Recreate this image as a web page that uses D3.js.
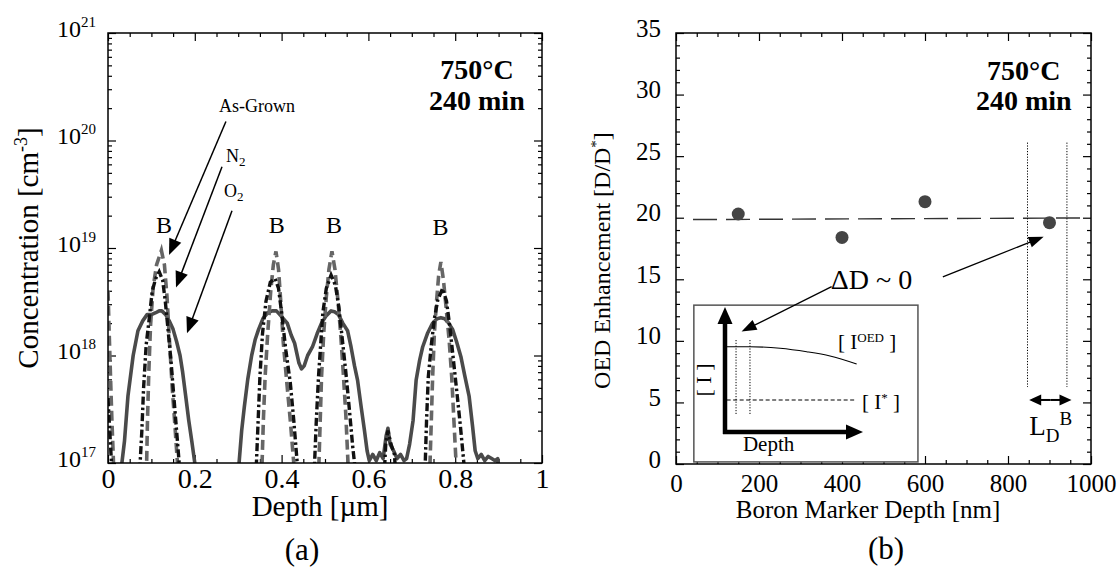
<!DOCTYPE html>
<html><head><meta charset="utf-8">
<script src="https://cdn.jsdelivr.net/npm/d3@7"></script>
<style>
html,body{margin:0;padding:0;background:#fff;}
svg{display:block;}
svg text{font-family:"Liberation Serif","Times New Roman",Times,serif;}
</style></head><body>
<svg id="c" width="1117" height="573"></svg>
<script>
// ---------------- DATA: panel (a) ----------------
const seriesNamesA = ["As-Grown", "N2", "O2"];
// [depth um, concentration cm^-3]; values below 1e17 run off the axis
const asGrown = [
 [0.000,4.0e18],[0.003,1.5e18],[0.006,6e17],[0.009,2.5e17],[0.012,1.2e17],[0.015,5e16],
 [0.086,5e16],[0.089,1.0e17],[0.091,2.5e17],[0.094,7e17],[0.098,1.9e18],[0.104,4.3e18],[0.112,7.0e18],[0.123,9.5e18],[0.130,7.0e18],[0.136,3.5e18],[0.142,1.3e18],[0.148,5e17],[0.154,2.3e17],[0.160,1.0e17],[0.163,5e16],
 [0.352,5e16],[0.355,1.0e17],[0.358,2.5e17],[0.362,6.3e17],[0.368,1.6e18],[0.375,4.0e18],[0.381,7.0e18],[0.387,9.3e18],[0.393,6.3e18],[0.398,3.2e18],[0.404,1.3e18],[0.412,5.6e17],[0.420,2.5e17],[0.428,1.0e17],[0.431,5e16],
 [0.483,5e16],[0.486,1.0e17],[0.489,2.5e17],[0.492,6.3e17],[0.497,1.6e18],[0.503,3.5e18],[0.509,6.3e18],[0.516,9.3e18],[0.523,6.3e18],[0.530,3.2e18],[0.536,1.6e18],[0.542,7e17],[0.548,2.8e17],[0.553,1.0e17],[0.556,5e16],
 [0.739,5e16],[0.742,1.0e17],[0.745,2.5e17],[0.748,6.3e17],[0.752,1.6e18],[0.757,3.2e18],[0.762,5.6e18],[0.767,7.4e18],[0.773,5.0e18],[0.779,2.8e18],[0.786,1.4e18],[0.792,6.3e17],[0.797,2.5e17],[0.802,1.0e17],[0.805,5e16]
];
const n2 = [
 [0.000,4e17],[0.004,2e17],[0.008,1e17],[0.010,5e16],
 [0.071,5e16],[0.074,1.0e17],[0.078,2.0e17],[0.082,5.0e17],[0.088,1.26e18],[0.095,2.2e18],[0.102,4.0e18],[0.110,5.2e18],[0.118,6.0e18],[0.126,5.0e18],[0.132,3.2e18],[0.138,1.8e18],[0.145,9e17],[0.152,4e17],[0.158,2e17],[0.164,1.0e17],[0.167,5e16],
 [0.339,5e16],[0.342,1.0e17],[0.346,2.5e17],[0.350,6.3e17],[0.356,1.6e18],[0.364,3.2e18],[0.374,4.8e18],[0.385,5.2e18],[0.393,4.2e18],[0.400,2.5e18],[0.410,1.1e18],[0.420,5.6e17],[0.428,2.5e17],[0.436,1.0e17],[0.439,5e16],
 [0.473,5e16],[0.476,1.0e17],[0.480,2.5e17],[0.485,6.3e17],[0.490,1.26e18],[0.495,2.5e18],[0.503,4.2e18],[0.514,5.6e18],[0.524,4.5e18],[0.532,2.8e18],[0.540,1.4e18],[0.548,7e17],[0.556,3.2e17],[0.564,1.4e17],[0.568,1.0e17],[0.571,5e16],
 [0.634,5e16],[0.640,1.5e17],[0.645,2.0e17],[0.652,1.5e17],[0.660,1.2e17],[0.666,5e16],
 [0.728,5e16],[0.731,1.0e17],[0.734,2.5e17],[0.738,6.3e17],[0.745,1.26e18],[0.752,2.2e18],[0.760,3.3e18],[0.771,4.2e18],[0.780,3.2e18],[0.788,1.8e18],[0.796,9e17],[0.804,4.5e17],[0.812,2.2e17],[0.820,1.0e17],[0.823,5e16]
];
const o2 = [
 [0.028,5e16],[0.032,1.0e17],[0.038,1.6e17],[0.046,4.2e17],[0.058,1.0e18],[0.069,1.7e18],[0.080,2.1e18],[0.090,2.4e18],[0.100,2.4e18],[0.110,2.5e18],[0.118,2.6e18],[0.124,2.6e18],[0.133,2.4e18],[0.141,2.1e18],[0.150,1.75e18],[0.158,1.35e18],[0.166,1.0e18],[0.172,7e17],[0.179,4.2e17],[0.186,2.5e17],[0.193,1.6e17],[0.200,1.0e17],[0.204,5e16],
 [0.298,5e16],[0.302,1.0e17],[0.308,2.0e17],[0.314,3.3e17],[0.322,6e17],[0.331,1.0e18],[0.339,1.4e18],[0.347,1.75e18],[0.357,2.2e18],[0.368,2.5e18],[0.378,2.6e18],[0.388,2.6e18],[0.400,2.3e18],[0.413,2.0e18],[0.422,1.55e18],[0.430,1.3e18],[0.440,8.5e17],[0.446,7.5e17],[0.452,8e17],[0.460,1.0e18],[0.471,1.2e18],[0.482,1.6e18],[0.492,2.0e18],[0.503,2.35e18],[0.514,2.6e18],[0.522,2.55e18],[0.531,2.4e18],[0.541,2.0e18],[0.552,1.7e18],[0.560,1.2e18],[0.568,8e17],[0.575,5.9e17],[0.583,3.4e17],[0.591,2.0e17],[0.597,1.3e17],[0.602,1.05e17],[0.610,1.2e17],[0.618,1.05e17],[0.626,1.25e17],[0.634,1.1e17],[0.641,1.8e17],[0.645,2.1e17],[0.650,1.5e17],[0.658,1.3e17],[0.666,1.1e17],[0.674,1.2e17],[0.682,1.05e17],[0.688,1.1e17],[0.695,1.5e17],[0.703,2.5e17],[0.710,5.9e17],[0.718,9e17],[0.725,1.2e18],[0.736,1.6e18],[0.748,2.0e18],[0.758,2.2e18],[0.767,2.25e18],[0.776,2.2e18],[0.785,2.0e18],[0.794,1.75e18],[0.803,1.35e18],[0.813,9.8e17],[0.822,6.5e17],[0.832,4.2e17],[0.840,2.2e17],[0.846,1.3e17],[0.852,1.1e17],[0.860,1.2e17],[0.868,1.05e17],[0.876,1.15e17],[0.884,1.1e17],[0.892,1.05e17],[0.898,1.1e17],[0.902,5e16]
];
const markerPeaksA = [0.129, 0.389, 0.521, 0.766];     // "B" label positions
const xTickValsA = [0, 0.2, 0.4, 0.6, 0.8, 1];
const xTickLabelsA = ["0", "0.2", "0.4", "0.6", "0.8", "1"];
const xMinorA = [0.05,0.1,0.15,0.25,0.3,0.35,0.45,0.5,0.55,0.65,0.7,0.75,0.85,0.9,0.95];
const yTickValsA = [1e17, 1e18, 1e19, 1e20, 1e21];
const yTickExpA = ["17", "18", "19", "20", "21"];

// ---------------- DATA: panel (b) ----------------
const markerDepths = [150, 400, 600, 900];           // nm
const oedEnhancement = [20.3, 18.4, 21.3, 19.6];     // D/D*
const fitLine = [[41, 19.85], [977, 19.98]];
const ldBounds = [847, 942];                          // diffusion length markers (nm)
const xTickValsB = [0, 200, 400, 600, 800, 1000];
const xMinorB = [50,100,150,250,300,350,450,500,550,650,700,750,850,900,950];
const yTickValsB = [0, 5, 10, 15, 20, 25, 30, 35];
const yMinorB = [1,2,3,4,6,7,8,9,11,12,13,14,16,17,18,19,21,22,23,24,26,27,28,29,31,32,33,34];
// inset schematic (arbitrary units 0..10)
const insetOED = [[0.12,6.82],[1.81,6.82],[3.99,6.70],[5.92,6.42],[7.61,6.08],[9.54,5.44]];
const insetIstar = [[0.12,2.56],[9.54,2.56]];
const insetDotted = [0.8, 1.81];

// ---------------- DRAW ----------------
const svg = d3.select("#c");
const defs = svg.append("defs");

function arrow(g, x1, y1, x2, y2, len, w, sw) {
  const a = Math.atan2(y2 - y1, x2 - x1);
  const bx = x2 - len * Math.cos(a), by = y2 - len * Math.sin(a);
  g.append("line").attr("x1", x1).attr("y1", y1).attr("x2", bx + Math.cos(a)).attr("y2", by + Math.sin(a))
    .attr("stroke", "#000").attr("stroke-width", sw);
  const px = -Math.sin(a) * w / 2, py = Math.cos(a) * w / 2;
  g.append("polygon").attr("points", `${x2},${y2} ${bx+px},${by+py} ${bx-px},${by-py}`).attr("fill", "#000");
}
function styleAxis(sel) {
  sel.attr("font-family", null).attr("font-size", null);
  sel.select(".domain").remove();
  sel.selectAll(".tick line").attr("stroke", "#000").attr("stroke-width", 1.2);
}

// ===== Panel (a) =====
const xA = d3.scaleLinear().domain([0, 1]).range([108, 542]);
const yA = d3.scaleLog().domain([1e17, 1e21]).range([463, 33]);
const gA = svg.append("g");
const [ax0, ax1] = xA.range(), [ay0, ay1] = yA.range();

defs.append("clipPath").attr("id", "clipA").append("rect")
  .attr("x", ax0).attr("y", ay1).attr("width", ax1 - ax0).attr("height", ay0 - ay1);

// bottom axis
const bA = gA.append("g").attr("transform", `translate(0,${ay0})`)
  .call(d3.axisBottom(xA).tickValues(xTickValsA).tickSize(-8).tickFormat((d, i) => xTickLabelsA[i]));
styleAxis(bA);
bA.selectAll("text").attr("y", 25).attr("dy", null).attr("fill", "#000").style("font-size", "28px");
gA.append("g").attr("transform", `translate(0,${ay0})`).call(d3.axisBottom(xA).tickValues(xMinorA).tickSize(-4).tickFormat(() => "")).call(styleAxis);
gA.append("g").attr("transform", `translate(0,${ay1})`).call(d3.axisTop(xA).tickValues(xTickValsA).tickSize(-8).tickFormat(() => "")).call(styleAxis);
gA.append("g").attr("transform", `translate(0,${ay1})`).call(d3.axisTop(xA).tickValues(xMinorA).tickSize(-4).tickFormat(() => "")).call(styleAxis);

// left axis with 10^n labels
const lA = gA.append("g").attr("transform", `translate(${ax0},0)`)
  .call(d3.axisLeft(yA).tickValues(yTickValsA).tickSize(-8).tickFormat(() => ""));
styleAxis(lA);
lA.selectAll(".tick text").each(function (d, i) {
  const t = d3.select(this).text(null).attr("x", -12).attr("dy", null).attr("y", 3)
    .attr("text-anchor", "end").attr("fill", "#000").style("font-size", "24px");
  t.append("tspan").text("10");
  t.append("tspan").attr("dy", -10).style("font-size", "15px").text(yTickExpA[i]);
});
const minorLog = yA.ticks().filter(v => yTickValsA.indexOf(v) < 0);
gA.append("g").attr("transform", `translate(${ax0},0)`).call(d3.axisLeft(yA).tickValues(minorLog).tickSize(-4).tickFormat(() => "")).call(styleAxis);
gA.append("g").attr("transform", `translate(${ax1},0)`).call(d3.axisRight(yA).tickValues(yTickValsA).tickSize(-8).tickFormat(() => "")).call(styleAxis);
gA.append("g").attr("transform", `translate(${ax1},0)`).call(d3.axisRight(yA).tickValues(minorLog).tickSize(-4).tickFormat(() => "")).call(styleAxis);

// curves
const lineA = d3.line().x(d => xA(d[0])).y(d => yA(d[1]));
const curves = gA.append("g").attr("clip-path", "url(#clipA)");
curves.append("path").datum(o2).attr("d", lineA).attr("fill", "none").attr("stroke", "#4a4a4a").attr("stroke-width", 3.6).attr("stroke-linejoin", "round");
curves.append("path").datum(asGrown).attr("d", lineA).attr("fill", "none").attr("stroke", "#666").attr("stroke-width", 3.6).attr("stroke-dasharray", "10,5");
curves.append("path").datum(n2).attr("d", lineA).attr("fill", "none").attr("stroke", "#111").attr("stroke-width", 3.4).attr("stroke-dasharray", "8,3,2.5,3");

// frame
gA.append("rect").attr("x", ax0).attr("y", ay1).attr("width", ax1 - ax0).attr("height", ay0 - ay1)
  .attr("fill", "none").attr("stroke", "#000").attr("stroke-width", 1.5);

// labels
gA.append("text").attr("transform", `translate(38,${(ay0 + ay1) / 2}) rotate(-90)`).attr("text-anchor", "middle")
  .style("font-size", "29px").call(t => {
    t.append("tspan").text("Concentration [cm");
    t.append("tspan").attr("dy", -11).style("font-size", "18px").text("-3");
    t.append("tspan").attr("dy", 11).text("]");
  });
gA.append("text").attr("x", 320).attr("y", 516).attr("text-anchor", "middle").style("font-size", "29px").text("Depth [µm]");
gA.append("text").attr("x", 302).attr("y", 560).attr("text-anchor", "middle").style("font-size", "31px").text("(a)");
gA.append("text").attr("x", xA(0.85)).attr("y", 79).attr("text-anchor", "middle").style("font-size", "28px").style("font-weight", "bold").text("750°C");
gA.append("text").attr("x", xA(0.85)).attr("y", 110).attr("text-anchor", "middle").style("font-size", "28px").style("font-weight", "bold").text("240 min");
markerPeaksA.forEach((p, i) => {
  gA.append("text").attr("x", xA(p)).attr("y", i === 3 ? 235 : 233).attr("text-anchor", "middle").style("font-size", "24px").text("B");
});
gA.append("text").attr("x", xA(0.2558)).attr("y", yA(1.84e20)).style("font-size", "18px").text(seriesNamesA[0]);
gA.append("text").attr("x", xA(0.2719)).attr("y", yA(6.3e19)).style("font-size", "18px").call(t => {
  t.append("tspan").text("N"); t.append("tspan").attr("dy", 4).style("font-size", "13px").text("2");
});
gA.append("text").attr("x", xA(0.2673)).attr("y", yA(2.98e19)).style("font-size", "18px").call(t => {
  t.append("tspan").text("O"); t.append("tspan").attr("dy", 4).style("font-size", "13px").text("2");
});
arrow(gA, xA(0.2717), yA(1.5e20), xA(0.1406), yA(8.6e18), 16, 13, 1.5);
arrow(gA, xA(0.2627), yA(5.7e19), xA(0.1567), yA(4.3e18), 16, 13, 1.5);
arrow(gA, xA(0.2857), yA(2.22e19), xA(0.1820), yA(1.61e18), 16, 13, 1.5);

// ===== Panel (b) =====
const xB = d3.scaleLinear().domain([0, 1000]).range([676, 1091]);
const yB = d3.scaleLinear().domain([0, 35]).range([464, 33]);
const gB = svg.append("g");
const [bx0, bx1] = xB.range(), [by0, by1] = yB.range();

const bB = gB.append("g").attr("transform", `translate(0,${by0})`)
  .call(d3.axisBottom(xB).tickValues(xTickValsB).tickSize(-8).tickFormat(d3.format("d")));
styleAxis(bB);
bB.selectAll("text").attr("y", 28).attr("dy", null).attr("fill", "#000").style("font-size", "25px");
gB.append("g").attr("transform", `translate(0,${by0})`).call(d3.axisBottom(xB).tickValues(xMinorB).tickSize(-4).tickFormat(() => "")).call(styleAxis);
gB.append("g").attr("transform", `translate(0,${by1})`).call(d3.axisTop(xB).tickValues(xTickValsB).tickSize(-8).tickFormat(() => "")).call(styleAxis);
gB.append("g").attr("transform", `translate(0,${by1})`).call(d3.axisTop(xB).tickValues(xMinorB).tickSize(-4).tickFormat(() => "")).call(styleAxis);
const lB = gB.append("g").attr("transform", `translate(${bx0},0)`)
  .call(d3.axisLeft(yB).tickValues(yTickValsB).tickSize(-8).tickFormat(d3.format("d")));
styleAxis(lB);
lB.selectAll("text").attr("x", -15).attr("dy", null).attr("y", 3).attr("fill", "#000").style("font-size", "25px");
gB.append("g").attr("transform", `translate(${bx0},0)`).call(d3.axisLeft(yB).tickValues(yMinorB).tickSize(-4).tickFormat(() => "")).call(styleAxis);
gB.append("g").attr("transform", `translate(${bx1},0)`).call(d3.axisRight(yB).tickValues(yTickValsB).tickSize(-8).tickFormat(() => "")).call(styleAxis);
gB.append("g").attr("transform", `translate(${bx1},0)`).call(d3.axisRight(yB).tickValues(yMinorB).tickSize(-4).tickFormat(() => "")).call(styleAxis);

// inset (drawn over axis ticks)
const inset = gB.append("g");
inset.append("rect").attr("x", xB(43)).attr("y", yB(12.9)).attr("width", xB(583) - xB(43)).attr("height", yB(0.17) - yB(12.9))
  .attr("fill", "#fff").attr("stroke", "#555").attr("stroke-width", 1.5);
const ix = d3.scaleLinear().domain([0, 10]).range([725, 863]);
const iy = d3.scaleLinear().domain([0, 10]).range([432, 307]);
const iline = d3.line().x(d => ix(d[0])).y(d => iy(d[1]));
insetDotted.forEach(v => {
  inset.append("line").attr("x1", ix(v)).attr("x2", ix(v)).attr("y1", iy(7.36)).attr("y2", iy(1.36))
    .attr("stroke", "#000").attr("stroke-width", 1).attr("stroke-dasharray", "1.2,1.6");
});
inset.append("path").datum(insetOED).attr("d", iline.curve(d3.curveMonotoneX)).attr("fill", "none").attr("stroke", "#000").attr("stroke-width", 1.1);
inset.append("path").datum(insetIstar).attr("d", d3.line().x(d => ix(d[0])).y(d => iy(d[1]))).attr("fill", "none").attr("stroke", "#000").attr("stroke-width", 1.1).attr("stroke-dasharray", "4,2.5");
arrow(inset, ix(0), iy(0) + 2, ix(0), iy(10), 17, 15, 4.5);
arrow(inset, ix(0) - 2, iy(0), ix(10), iy(0), 17, 15, 4.5);
inset.append("text").attr("transform", `translate(${ix(-1.0)},${iy(4.16)}) rotate(-90)`).attr("text-anchor", "middle").style("font-size", "22px").text("[ I ]");
inset.append("text").attr("x", ix(1.3)).attr("y", iy(-1.52)).style("font-size", "21px").text("Depth");
inset.append("text").attr("x", ix(8.19)).attr("y", iy(6.64)).style("font-size", "21px").call(t => {
  t.append("tspan").text("[ I"); t.append("tspan").attr("dy", -7).style("font-size", "13px").text("OED");
  t.append("tspan").attr("dy", 7).text(" ]");
});
inset.append("text").attr("x", ix(9.93)).attr("y", iy(1.84)).style("font-size", "21px").call(t => {
  t.append("tspan").text("[ I"); t.append("tspan").attr("dy", -7).style("font-size", "13px").text("*");
  t.append("tspan").attr("dy", 7).text(" ]");
});

// fit line, LD markers, points
gB.append("path").datum(fitLine).attr("d", d3.line().x(d => xB(d[0])).y(d => yB(d[1])))
  .attr("fill", "none").attr("stroke", "#333").attr("stroke-width", 1.4).attr("stroke-dasharray", "24,9");
ldBounds.forEach(v => {
  gB.append("line").attr("x1", xB(v)).attr("x2", xB(v)).attr("y1", yB(26.1)).attr("y2", yB(6.25))
    .attr("stroke", "#000").attr("stroke-width", 1).attr("stroke-dasharray", "1.2,1.6");
});
gB.selectAll("circle.pt").data(markerDepths).enter().append("circle").attr("class", "pt")
  .attr("cx", d => xB(d)).attr("cy", (d, i) => yB(oedEnhancement[i])).attr("r", 6.5).attr("fill", "#444");

// frame
gB.append("rect").attr("x", bx0).attr("y", by1).attr("width", bx1 - bx0).attr("height", by0 - by1)
  .attr("fill", "none").attr("stroke", "#000").attr("stroke-width", 1.5);

// double arrow LD
{
  const yv = yB(5.2), xa = xB(ldBounds[0] + 4), xb = xB(ldBounds[1] + 11);
  arrow(gB, (xa + xb) / 2, yv, xa, yv, 12, 11, 2);
  arrow(gB, (xa + xb) / 2, yv, xb, yv, 12, 11, 2);
}
gB.append("text").attr("x", xB(851)).attr("y", yB(2.36)).style("font-size", "27px").call(t => {
  t.append("tspan").text("L");
  t.append("tspan").attr("dy", 7).style("font-size", "19px").text("D");
  t.append("tspan").attr("dy", -17).style("font-size", "19px").text("B");
});

// annotations
gB.append("text").attr("x", xB(373)).attr("y", yB(14.2)).style("font-size", "28px").text("ΔD ~ 0");
arrow(gB, xB(643), yB(15.2), xB(886), yB(18.46), 15, 11, 1.3);
arrow(gB, xB(375), yB(14.4), xB(158), yB(10.75), 15, 11, 1.3);

gB.append("text").attr("x", xB(838)).attr("y", 80).attr("text-anchor", "middle").style("font-size", "28px").style("font-weight", "bold").text("750°C");
gB.append("text").attr("x", xB(838)).attr("y", 110).attr("text-anchor", "middle").style("font-size", "28px").style("font-weight", "bold").text("240 min");

gB.append("text").attr("transform", `translate(610,${(by0 + by1) / 2 + 12}) rotate(-90)`).attr("text-anchor", "middle")
  .style("font-size", "24px").call(t => {
    t.append("tspan").text("OED Enhancement [D/D");
    t.append("tspan").attr("dy", -9).style("font-size", "15px").text("*");
    t.append("tspan").attr("dy", 9).text("]");
  });
gB.append("text").attr("x", 868).attr("y", 518).attr("text-anchor", "middle").style("font-size", "25px").text("Boron Marker Depth [nm]");
gB.append("text").attr("x", 886).attr("y", 559).attr("text-anchor", "middle").style("font-size", "31px").text("(b)");
</script>
</body></html>
